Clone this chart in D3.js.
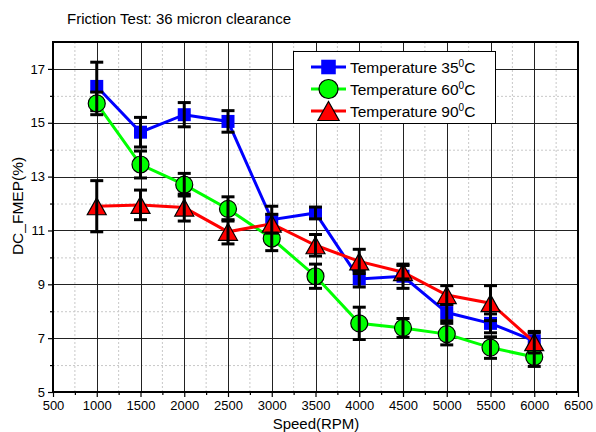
<!DOCTYPE html>
<html>
<head>
<meta charset="utf-8">
<script src="https://cdn.jsdelivr.net/npm/d3@7"></script>
<style>
  body { margin: 0; background: #fff; }
  svg { display: block; font-family: Arial, "Liberation Sans", sans-serif; }
</style>
</head>
<body>
<svg id="chart" width="596" height="432"></svg>
<script>
const speeds = [1000, 1500, 2000, 2500, 3000, 3500, 4000, 4500, 5000, 5500, 6000];
const fmep35 = [16.35, 14.65, 15.3, 15.05, 11.4, 11.65, 9.2, 9.3, 7.95, 7.55, 6.9];
const err35 = [0.9, 0.55, 0.45, 0.4, 0.5, 0.22, 0.3, 0.45, 0.3, 0.35, 0.3];
const fmep60 = [15.72, 13.45, 12.7, 11.8, 10.7, 9.3, 7.55, 7.38, 7.15, 6.65, 6.3];
const err60 = [0.42, 0.5, 0.42, 0.45, 0.45, 0.45, 0.6, 0.35, 0.4, 0.4, 0.35];
const fmep90 = [11.9, 11.95, 11.85, 10.95, 11.25, 10.45, 9.85, 9.45, 8.6, 8.3, 6.85];
const err90 = [0.95, 0.55, 0.5, 0.45, 0.35, 0.4, 0.45, 0.25, 0.35, 0.65, 0.4];
const xTicks = [500, 1000, 1500, 2000, 2500, 3000, 3500, 4000, 4500, 5000, 5500, 6000, 6500];
const yTicks = [5, 7, 9, 11, 13, 15, 17];

const series = [
    {name: 'Temperature 35', vals: fmep35, errs: err35, color: '#0000ff', shape: 'square'},
    {name: 'Temperature 60', vals: fmep60, errs: err60, color: '#00ff00', shape: 'circle'},
    {name: 'Temperature 90', vals: fmep90, errs: err90, color: '#ff0000', shape: 'triangle'}
];

const pLeft = 53, pRight = 578, pTop = 42, pBottom = 392;
const x = d3.scaleLinear().domain([500, 6500]).range([pLeft, pRight]);
const y = d3.scaleLinear().domain([5, 18]).range([pBottom, pTop]);

const svg = d3.select('#chart');

// grid
const minorX = d3.range(750, 6500, 500);
const minorY = d3.range(6, 18, 2);
const grid = svg.append('g');
grid.selectAll('.mx').data(minorX).enter().append('line')
    .attr('x1', d => x(d)).attr('x2', d => x(d))
    .attr('y1', pTop).attr('y2', pBottom)
    .attr('stroke', '#c8c8c8').attr('stroke-dasharray', '2,2');
grid.selectAll('.my').data(minorY).enter().append('line')
    .attr('x1', pLeft).attr('x2', pRight)
    .attr('y1', d => y(d) + 0.5).attr('y2', d => y(d) + 0.5)
    .attr('stroke', '#c8c8c8').attr('stroke-dasharray', '2,2');
grid.selectAll('.gx').data(xTicks.slice(1, -1)).enter().append('line')
    .attr('x1', d => Math.round(x(d)) + 0.5).attr('x2', d => Math.round(x(d)) + 0.5)
    .attr('y1', pTop).attr('y2', pBottom)
    .attr('stroke', '#222');
grid.selectAll('.gy').data(yTicks.slice(1)).enter().append('line')
    .attr('x1', pLeft).attr('x2', pRight)
    .attr('y1', d => Math.round(y(d)) + 0.5).attr('y2', d => Math.round(y(d)) + 0.5)
    .attr('stroke', '#222');

// axes
const xAxis = d3.axisBottom(x).tickValues(xTicks).tickFormat(d3.format('d'))
    .tickSize(5).tickSizeOuter(0).tickPadding(4);
const yAxis = d3.axisLeft(y).tickValues(yTicks).tickFormat(d3.format('d'))
    .tickSize(5).tickSizeOuter(0).tickPadding(3);
svg.append('g').attr('transform', `translate(0,${pBottom})`)
    .call(d3.axisBottom(x).tickValues(minorX).tickSize(3).tickFormat(''))
    .call(g => g.select('.domain').remove());
svg.append('g').attr('transform', `translate(${pLeft},0)`)
    .call(d3.axisLeft(y).tickValues(minorY).tickSize(3).tickFormat(''))
    .call(g => g.select('.domain').remove());
const gx = svg.append('g').attr('transform', `translate(0,${pBottom})`).call(xAxis);
const gy = svg.append('g').attr('transform', `translate(${pLeft},0)`).call(yAxis);
[gx, gy].forEach(g => {
    g.attr('font-family', 'Arial, "Liberation Sans", sans-serif').attr('font-size', 13);
    g.selectAll('text').attr('fill', '#000');
    g.select('.domain').remove();
});
svg.selectAll('.tick line').attr('stroke', '#000').attr('stroke-width', 1.2);

// frame
svg.append('rect')
    .attr('x', pLeft).attr('y', pTop)
    .attr('width', pRight - pLeft).attr('height', pBottom - pTop)
    .attr('fill', 'none').attr('stroke', '#000').attr('stroke-width', 2);

// markers
const sym = (g, shape, color, s) => {
    if (shape === 'square') {
        g.append('rect').attr('x', -s * 6.5).attr('y', -s * 6.5)
            .attr('width', 13 * s).attr('height', 13 * s).attr('fill', color);
    } else if (shape === 'circle') {
        g.append('circle').attr('r', 8.5 * s).attr('fill', color)
            .attr('stroke', '#000').attr('stroke-width', 1.2);
    } else {
        const w = 9.5 * s, h = 8.5 * s;
        g.append('path').attr('d', `M0,${-h}L${w},${h}L${-w},${h}Z`)
            .attr('fill', color).attr('stroke', '#000').attr('stroke-width', 1.2);
    }
};

const line = d3.line().x(d => x(d[0])).y(d => y(d[1]));

series.forEach(s => {
    const pts = speeds.map((sp, i) => [sp, s.vals[i], s.errs[i]]);
    const g = svg.append('g');
    g.append('path').datum(pts).attr('d', line)
        .attr('fill', 'none').attr('stroke', s.color).attr('stroke-width', 3);
    pts.forEach(p => {
        const m = g.append('g').attr('transform', `translate(${x(p[0])},${y(p[1])})`);
        sym(m, s.shape, s.color, 1);
    });
    const eb = g.selectAll('.eb').data(pts).enter().append('g');
    eb.append('line')
        .attr('x1', d => x(d[0])).attr('x2', d => x(d[0]))
        .attr('y1', d => y(d[1] + d[2])).attr('y2', d => y(d[1] - d[2]))
        .attr('stroke', '#000').attr('stroke-width', 3);
    [1, -1].forEach(sg => {
        eb.append('line')
            .attr('x1', d => x(d[0]) - 6.5).attr('x2', d => x(d[0]) + 6.5)
            .attr('y1', d => y(d[1] + sg * d[2])).attr('y2', d => y(d[1] + sg * d[2]))
            .attr('stroke', '#000').attr('stroke-width', 3);
    });
});

// legend
const leg = svg.append('g');
leg.append('rect').attr('x', 293.5).attr('y', 51.5).attr('width', 202).attr('height', 72)
    .attr('fill', '#fff').attr('stroke', '#000');
series.forEach((s, i) => {
    const cy = 67 + i * 22;
    leg.append('line').attr('x1', 311).attr('x2', 346).attr('y1', cy).attr('y2', cy)
        .attr('stroke', s.color).attr('stroke-width', 3);
    const m = leg.append('g').attr('transform', `translate(328.5,${cy})`);
    sym(m, s.shape, s.color, 1.12);
    const t = leg.append('text').attr('x', 350).attr('y', cy + 5.5)
        .attr('font-size', 15.5).text(s.name);
    t.append('tspan').attr('font-size', 10).attr('dy', -6).text('0');
    t.append('tspan').attr('dy', 6).text('C');
});

// titles
svg.append('text').attr('x', 179).attr('y', 24).attr('text-anchor', 'middle')
    .attr('font-size', 15).text('Friction Test: 36 micron clearance');
svg.append('text').attr('x', 316).attr('y', 429).attr('text-anchor', 'middle')
    .attr('font-size', 15).text('Speed(RPM)');
svg.append('text').attr('transform', 'translate(23,206) rotate(-90)')
    .attr('text-anchor', 'middle').attr('font-size', 15.5).text('DC_FMEP(%)');
</script>
</body>
</html>
